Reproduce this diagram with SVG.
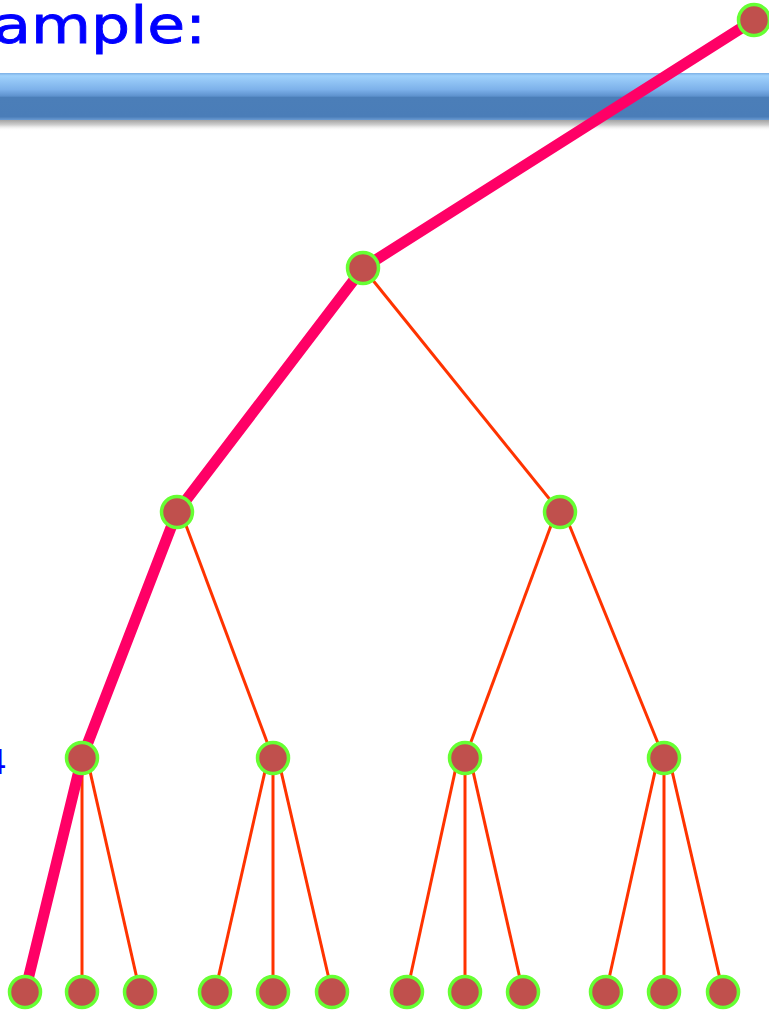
<svg xmlns="http://www.w3.org/2000/svg" width="769" height="1014" viewBox="0 0 769 1014">
<defs>
<linearGradient id="bar" x1="0" y1="0" x2="0" y2="1">
<stop offset="0" stop-color="#7DB0E6"/>
<stop offset="0.06" stop-color="#A0D2FC"/>
<stop offset="0.35" stop-color="#7DB1EA"/>
<stop offset="0.49" stop-color="#5E92CE"/>
<stop offset="0.52" stop-color="#4B7EB8"/>
<stop offset="0.93" stop-color="#4A7DB8"/>
<stop offset="1" stop-color="#6B9BD2"/>
</linearGradient>
<linearGradient id="shadow" x1="0" y1="0" x2="0" y2="1">
<stop offset="0" stop-color="#9A9A9A"/>
<stop offset="0.5" stop-color="#D0D0D0"/>
<stop offset="1" stop-color="#FFFFFF" stop-opacity="0"/>
</linearGradient>
</defs>
<style>
.title{font-family:"DejaVu Sans","Liberation Sans",sans-serif;fill:#0000FF}
.thick{stroke:#FF0066;stroke-width:11;fill:none;stroke-linecap:butt}
.thin{stroke:#FF3300;stroke-width:3;fill:none}
.node{fill:#C0504D;stroke:#66FF33;stroke-width:3.5}
</style>
<rect x="0" y="0" width="769" height="1014" fill="#FFFFFF"/>
<text class="title" x="206" y="43" font-size="52" text-anchor="end" textLength="288" lengthAdjust="spacingAndGlyphs" stroke="#0000FF" stroke-width="0.8">Example:</text>
<text class="title" x="7" y="774" font-size="34" text-anchor="end">4</text>
<rect x="0" y="119" width="769" height="12" fill="url(#shadow)"/>
<rect x="0" y="73" width="769" height="47" fill="url(#bar)"/>
<g id="connectors">
<line class="thin" x1="363" y1="268" x2="560" y2="512"/>
<line class="thin" x1="181" y1="512" x2="273" y2="758"/>
<line class="thin" x1="556" y1="512" x2="465" y2="758"/>
<line class="thin" x1="564" y1="512" x2="664" y2="758"/>
<line class="thin" x1="82" y1="758" x2="82" y2="992"/>
<line class="thin" x1="87" y1="758" x2="140" y2="992"/>
<line class="thin" x1="268" y1="758" x2="215" y2="992"/>
<line class="thin" x1="273" y1="758" x2="273" y2="992"/>
<line class="thin" x1="278" y1="758" x2="332" y2="992"/>
<line class="thin" x1="458" y1="758" x2="407" y2="992"/>
<line class="thin" x1="465" y1="758" x2="465" y2="992"/>
<line class="thin" x1="470" y1="758" x2="523" y2="992"/>
<line class="thin" x1="658" y1="758" x2="606" y2="992"/>
<line class="thin" x1="664" y1="758" x2="664" y2="992"/>
<line class="thin" x1="669" y1="758" x2="723" y2="992"/>
<polyline class="thick" points="754,20 363,268 177,512 82,758 25,992"/>
</g>
<g id="n-root"><circle class="node" cx="754" cy="20" r="15.5"/></g>
<g id="n-1"><circle class="node" cx="363" cy="268" r="15.5"/></g>
<g id="n-2a"><circle class="node" cx="177" cy="512" r="15.5"/></g>
<g id="n-2b"><circle class="node" cx="560" cy="512" r="15.5"/></g>
<g id="n-3a"><circle class="node" cx="82" cy="758" r="15.5"/></g>
<g id="n-3b"><circle class="node" cx="273" cy="758" r="15.5"/></g>
<g id="n-3c"><circle class="node" cx="465" cy="758" r="15.5"/></g>
<g id="n-3d"><circle class="node" cx="664" cy="758" r="15.5"/></g>
<g id="leaf-1"><circle class="node" cx="25" cy="992" r="15.5"/></g>
<g id="leaf-2"><circle class="node" cx="82" cy="992" r="15.5"/></g>
<g id="leaf-3"><circle class="node" cx="140" cy="992" r="15.5"/></g>
<g id="leaf-4"><circle class="node" cx="215" cy="992" r="15.5"/></g>
<g id="leaf-5"><circle class="node" cx="273" cy="992" r="15.5"/></g>
<g id="leaf-6"><circle class="node" cx="332" cy="992" r="15.5"/></g>
<g id="leaf-7"><circle class="node" cx="407" cy="992" r="15.5"/></g>
<g id="leaf-8"><circle class="node" cx="465" cy="992" r="15.5"/></g>
<g id="leaf-9"><circle class="node" cx="523" cy="992" r="15.5"/></g>
<g id="leaf-10"><circle class="node" cx="606" cy="992" r="15.5"/></g>
<g id="leaf-11"><circle class="node" cx="664" cy="992" r="15.5"/></g>
<g id="leaf-12"><circle class="node" cx="723" cy="992" r="15.5"/></g>
</svg>
